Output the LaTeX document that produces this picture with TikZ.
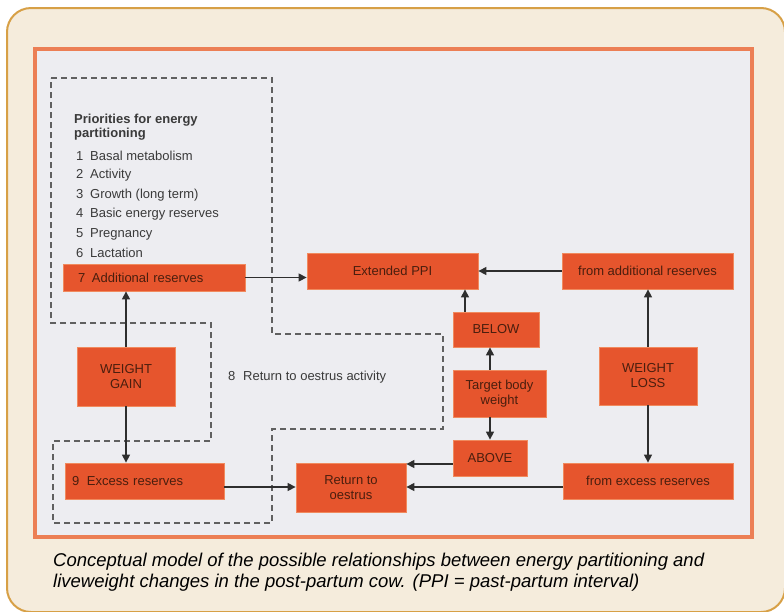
\documentclass[tikz,border=0pt]{standalone}
\usepackage{fontspec}
\setmainfont{Liberation Sans}
\usepackage{tikz}
\usetikzlibrary{arrows,arrows.meta}

\definecolor{paper}{HTML}{F5ECDC}
\definecolor{rim}{HTML}{D7A046}
\definecolor{photo}{HTML}{EDEDF1}
\definecolor{frame}{HTML}{EC7F55}
\definecolor{boxred}{HTML}{E6552D}
\definecolor{boxedge}{HTML}{F08A5E}
\definecolor{boxtext}{HTML}{4A1E0E}
\definecolor{listgrey}{HTML}{3A3A3A}
\definecolor{dashgrey}{HTML}{606060}
\definecolor{arrgrey}{HTML}{2E2E2E}

\begin{document}
\begin{tikzpicture}[x=1pt, y=-1pt, every node/.style={font=\fontsize{13}{15}\selectfont, text=boxtext}
            , blk/.style={fill=boxred, draw=boxedge, line width=0.8pt, inner sep=0pt, align=center}
            , arr/.style={-{Triangle[length=8pt,width=8pt]}, line width=1.3pt, draw=arrgrey}
            , listtxt/.style={anchor=west, inner sep=0pt, text=listgrey} ]

            \useasboundingbox (0,0) rectangle (784,611);
            \draw[rounded corners=24pt, fill=paper, draw=rim, line width=2pt] (7,8) rectangle (785,612);
            \draw[fill=photo, draw=frame, line width=3.5pt] (35,49) rectangle (752,537);

            \draw[dash pattern=on 6pt off 4pt, line width=1.2pt, draw=dashgrey]
                (51,78) -- (272,78) -- (272,334) -- (443,334) -- (443,429) -- (272,429) -- (272,523)
                -- (53,523) -- (53,441) -- (211,441) -- (211,323) -- (51,323) -- cycle;

            \node[listtxt, font=\fontsize{13}{14.5}\selectfont\bfseries, align=left] (prio) at (74,127)
                {Priorities for energy\\partitioning};
            \foreach \n/\t/\y in {1/Basal metabolism/156,2/Activity/175,3/Growth (long term)/195,
                    4/Basic energy reserves/214,5/Pregnancy/234,6/Lactation/253}
                \node[listtxt] (prio\n) at (76,\y) {\makebox[14pt][l]{\n}\t};
            \node[listtxt] (oestact) at (228,377) {\makebox[15pt][l]{8}Return to oestrus activity};

            \node[blk, text width=152pt, inner xsep=15pt, minimum height=27pt, align=left] (addres) at (154,277.5)
                {\makebox[14pt][l]{7}Additional reserves};
            \node[blk, minimum width=171pt, minimum height=36pt] (ppi) at (392.5,271) {Extended PPI};
            \node[blk, minimum width=171pt, minimum height=36pt] (fromadd) at (647.5,271) {from additional reserves};
            \node[blk, minimum width=86pt, minimum height=35pt] (below) at (496,329.5) {BELOW};
            \node[blk, minimum width=93pt, minimum height=47pt] (target) at (499.5,393.5) {Target body\\weight};
            \node[blk, minimum width=74pt, minimum height=36pt] (above) at (490,458) {ABOVE};
            \node[blk, minimum width=98pt, minimum height=58pt] (loss) at (648,376) {WEIGHT\\LOSS};
            \node[blk, minimum width=170pt, minimum height=36pt] (fromexc) at (648,481) {from excess reserves};
            \node[blk, minimum width=98pt, minimum height=59pt] (gain) at (126,376.5) {WEIGHT\\GAIN};
            \node[blk, text width=145pt, inner xsep=7pt, minimum height=36pt, align=left] (excess) at (144.5,481)
                {\makebox[15pt][l]{9}Excess reserves};
            \node[blk, minimum width=110pt, minimum height=49pt] (oestrus) at (351,487.5) {Return to\\oestrus};

            \draw[arr] (gain.north) -- (gain.north |- addres.south);
            \draw[arr] (gain.south) -- (gain.south |- excess.north);
            \draw[arr] (addres.east) -- (addres.east -| ppi.west);
            \draw[arr] (fromadd.west) -- (ppi.east);
            \draw[arr] ([xshift=-31pt]below.north) -- ([xshift=-31pt]below.north |- ppi.south);
            \draw[arr] (above |- target.north) -- (above |- below.south);
            \draw[arr] (above |- target.south) -- (above.north);
            \draw[arr] ([yshift=-6pt]above.west) -- ([yshift=-6pt]above.west -| oestrus.east);
            \draw[arr] ([yshift=-6pt]fromexc.west) -- ([yshift=-6pt]fromexc.west -| oestrus.east);
            \draw[arr] ([yshift=-6pt]excess.east) -- ([yshift=-6pt]excess.east -| oestrus.west);
            \draw[arr] (loss.north) -- (loss.north |- fromadd.south);
            \draw[arr] (loss.south) -- (loss.south |- fromexc.north);

            \node[anchor=west, inner sep=0pt, text=black, align=left
                , font=\fontsize{18.5}{21}\selectfont\itshape] (caption) at (53,572.5)
                {Conceptual model of the possible relationships between energy partitioning and\\
                 liveweight changes in the post-partum cow. (PPI = past-partum interval)};

        \end{tikzpicture}
\end{document}
